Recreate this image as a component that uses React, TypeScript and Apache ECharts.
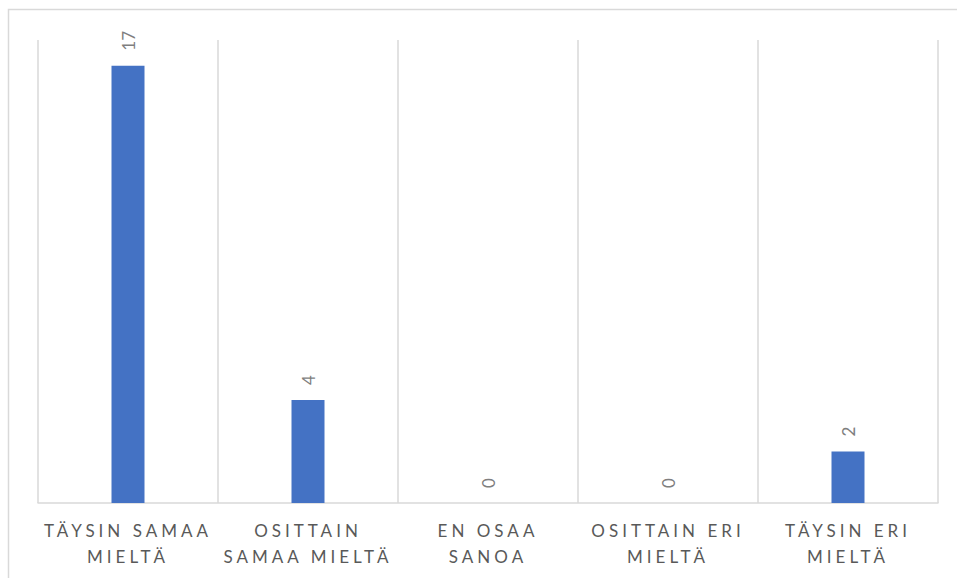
import React, { useEffect, useRef } from "react";
import * as echarts from "echarts";

const categories: string[] = [
  "TÄYSIN SAMAA\nMIELTÄ",
  "OSITTAIN\nSAMAA MIELTÄ",
  "EN OSAA\nSANOA",
  "OSITTAIN ERI\nMIELTÄ",
  "TÄYSIN ERI\nMIELTÄ",
];
const values: number[] = [17, 4, 0, 0, 2];
const yMax = 18;

export default function App() {
  const ref = useRef<HTMLDivElement>(null);
  useEffect(() => {
    if (!ref.current) return;
    const chart = echarts.init(ref.current, undefined, { renderer: "svg" });
    chart.setOption({
      animation: false,
      backgroundColor: "#ffffff",
      grid: { left: 38, right: 19, top: 40, bottom: 75, containLabel: false },
      graphic: [
        {
          type: "rect",
          shape: { x: 8.5, y: 9.5, width: 960, height: 580 },
          style: { fill: "none", stroke: "#d9d9d9", lineWidth: 1.5 },
          silent: true,
        },
      ],
      xAxis: {
        type: "category",
        data: categories,
        boundaryGap: true,
        axisLine: { show: true, lineStyle: { color: "#d9d9d9", width: 1.5 } },
        axisTick: { show: false },
        splitLine: { show: true, lineStyle: { color: "#d9d9d9", width: 1.5 } },
        axisLabel: {
          interval: 0,
          color: "#595959",
          fontFamily: "Lato",
          fontSize: 17,
          lineHeight: 26,
          margin: 14,
        },
      },
      yAxis: { type: "value", min: 0, max: yMax, show: false, splitLine: { show: false } },
      series: [
        {
          type: "bar",
          data: values,
          barWidth: 33,
          itemStyle: { color: "#4472c4" },
          label: {
            show: true,
            position: "top",
            rotate: 90,
            align: "left",
            verticalAlign: "middle",
            distance: 15,
            color: "#7f7f7f",
            fontFamily: "Lato",
            fontSize: 17,
          },
        },
      ],
    });
    return () => chart.dispose();
  }, []);
  return (
    <div style={{ position: "fixed", left: 0, top: 0, width: 957, height: 578 }}>
      <style>{`text[fill="#595959"], text[fill="rgb(89,89,89)"] { letter-spacing: 4px; }`}</style>
      <div ref={ref} style={{ width: 957, height: 578 }} />
    </div>
  );
}
